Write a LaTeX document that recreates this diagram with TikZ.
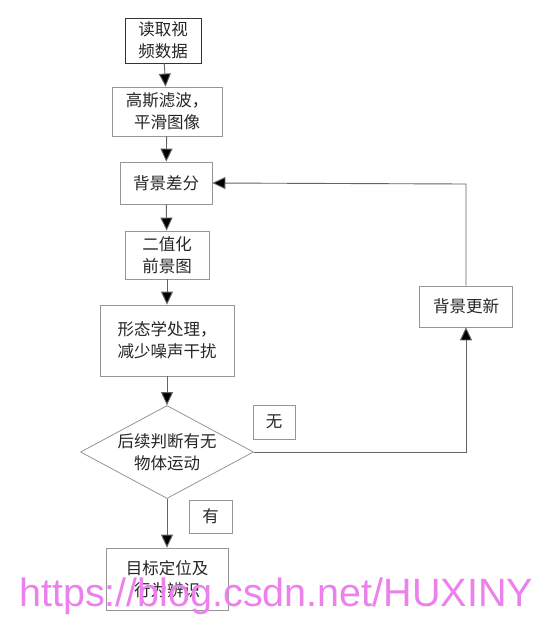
\documentclass[tikz,border=0pt]{standalone}
\usepackage{fontspec}
\setmainfont{Liberation Serif}
\newfontfamily\cjk{Noto Sans CJK SC}
\newfontfamily\wmfont{Liberation Sans}
\usetikzlibrary{shapes.geometric,arrows.meta}
\definecolor{edgegray}{RGB}{150,150,150}
\definecolor{linegray}{RGB}{100,100,100}
\definecolor{wmpink}{RGB}{236,128,236}
\tikzset{
  procbox/.style={draw=edgegray, line width=0.8pt, fill=white, align=center, inner sep=0pt,
     font=\cjk\fontsize{16.5}{22}\selectfont, text=black!85},
  flow/.style={draw=linegray, line width=0.9pt, -{Triangle[length=13pt,width=12pt,fill=black]}},
}
\begin{document}
\begin{tikzpicture}[x=1pt,y=-1pt]
\useasboundingbox (0,0) rectangle (545,630);
\fill[white] (0,0) rectangle (545,630);
% boxes
\node[procbox, draw=black!80, minimum width=76pt, minimum height=45pt] (read) at (163,40.5) {读取视\\频数据};
\node[procbox, minimum width=110pt, minimum height=49pt] (gauss) at (167,111.5) {高斯滤波，\\平滑图像};
\node[procbox, minimum width=92pt, minimum height=42pt] (diff) at (166,183) {背景差分};
\node[procbox, minimum width=84pt, minimum height=48pt] (bin) at (167,255) {二值化\\前景图};
\node[procbox, minimum width=134pt, minimum height=71pt] (morph) at (167,340.5) {形态学处理，\\减少噪声干扰};
\node[procbox, diamond, minimum width=173pt, minimum height=93pt, aspect=1.86] (judge) at (167,452) {};
\node[font=\cjk\fontsize{16.5}{22}\selectfont, text=black!85, align=center] (judgetext) at (167,452) {后续判断有无\\物体运动};
\node[procbox, minimum width=42pt, minimum height=34pt] (wu) at (274,422) {无};
\node[procbox, minimum width=43pt, minimum height=33pt] (you) at (210.5,516.5) {有};
\node[procbox, minimum width=122pt, minimum height=62pt] (target) at (167,579) {目标定位及\\行为辨识};
\node[procbox, minimum width=93pt, minimum height=41pt] (update) at (466,306.5) {背景更新};
\coordinate (cr) at (466,452);
\coordinate (ct) at (466,184);
% connectors
\draw[flow] (read) -- (gauss);
\draw[flow] (gauss) -- (diff);
\draw[flow] (diff) -- (bin);
\draw[flow] (bin) -- (morph);
\draw[flow] (morph) -- (judge.north);
\draw[flow] (judge.south) -- (target);
\draw[flow] (judge.east) -- (cr) -- (update);
\draw[flow] (update) -- (ct) -- (diff.east);
% watermark
\node[anchor=base west, inner sep=0pt, text=wmpink, font=\wmfont\fontsize{39.5}{44}\selectfont] (wm) at (19,606) {https://blog.csdn.net/HUXINY};
\end{tikzpicture}
\end{document}
